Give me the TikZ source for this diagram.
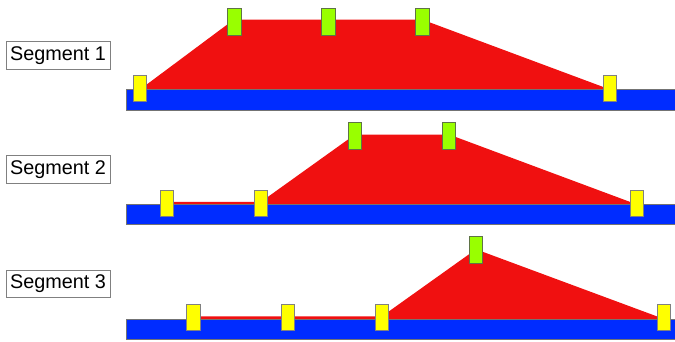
\documentclass[tikz,border=0pt]{standalone}
\usepackage{fontspec}
\setmainfont{Liberation Sans}
\definecolor{barblue}{RGB}{0,44,255}
\definecolor{barred}{RGB}{240,16,16}
\definecolor{ybox}{RGB}{255,255,0}
\definecolor{gbox}{RGB}{153,255,0}
\definecolor{gedge}{RGB}{95,115,70}
\tikzset{
  bar/.style={fill=barblue, draw=black!55, line width=0.8pt},
  slab/.style={fill=barred, draw=none},
  ymark/.style={rectangle, fill=ybox, draw=black!50, line width=0.8pt, minimum width=13.5pt, minimum height=26.5pt, inner sep=0pt},
  gmark/.style={rectangle, fill=gbox, draw=gedge, line width=0.8pt, minimum width=13.5pt, minimum height=26.5pt, inner sep=0pt},
  seglabel/.style={rectangle, fill=white, draw=black!50, line width=0.7pt, minimum width=104pt, minimum height=27.5pt, inner sep=0pt, font=\fontsize{19.8pt}{22pt}\selectfont}
}
\begin{document}
\begin{tikzpicture}[x=1pt,y=-1pt]
\useasboundingbox (0,0) rectangle (675,341);
% ---------- Segment 1 (blue top 89.5) ----------
\fill[slab] (140,89.5) -- (234,19.5) -- (422,19.5) -- (610,89.5) -- cycle;
\draw[bar] (126.7,89.5) rectangle (678,110);
\node[seglabel] (l1) at (58,55.3) {Segment 1};
\node[ymark] (s1a) at (140,88.5) {};
\node[gmark] (s1b) at (234.2,21.7) {};
\node[gmark] (s1c) at (328.2,21.7) {};
\node[gmark] (s1d) at (422.2,21.7) {};
\node[ymark] (s1e) at (610,88.5) {};
% ---------- Segment 2 (blue top 204.5) ----------
\fill[slab] (166.8,204.5) -- (166.8,201.8) -- (261,201.8) -- (355,134.5) -- (449,134.5) -- (637,204.5) -- cycle;
\draw[bar] (126.7,204.5) rectangle (678,224.5);
\node[seglabel] (l2) at (58,169.5) {Segment 2};
\node[ymark] (s2a) at (166.8,203.3) {};
\node[ymark] (s2b) at (261,203.3) {};
\node[gmark] (s2c) at (355,135.8) {};
\node[gmark] (s2d) at (449,135.8) {};
\node[ymark] (s2e) at (637,203.3) {};
% ---------- Segment 3 (blue top 319) ----------
\fill[slab] (193.6,319) -- (193.6,316.3) -- (382,316.3) -- (476,249.3) -- (664,319) -- cycle;
\draw[bar] (126.7,319) rectangle (678,339.5);
\node[seglabel] (l3) at (58,283.7) {Segment 3};
\node[ymark] (s3a) at (193.6,317.5) {};
\node[ymark] (s3b) at (288,317.5) {};
\node[ymark] (s3c) at (382,317.5) {};
\node[gmark] (s3d) at (475.8,250) {};
\node[ymark] (s3e) at (664,317.5) {};
\end{tikzpicture}
\end{document}
